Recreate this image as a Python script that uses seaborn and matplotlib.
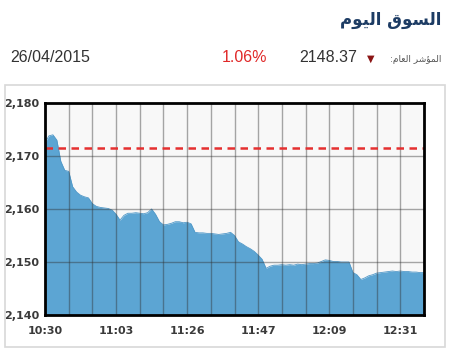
import numpy as np
import pandas as pd
import matplotlib
matplotlib.use("Agg")
import matplotlib.pyplot as plt
import matplotlib.patches as mpatches
import seaborn as sns

# ---- data ----
title_text = "\uFEE1\uFEEE\uFEF4\uFEDF\uFE8D \uFED5\uFEEE\uFEB4\uFEDF\uFE8D"   # السوق اليوم (visual order)
index_label = ":\uFEE1\uFE8E\uFECC\uFEDF\uFE8D \uFEAE\uFEB7\uFE86\uFEE4\uFEDF\uFE8D"  # المؤشر العام:
date_text = "26/04/2015"
change_text = "1.06%"
index_value_text = "2148.37"

values = [
    2172.5, 2173.8, 2174.0, 2173.0, 2169.0, 2167.3, 2167.1, 2164.2, 2163.2, 2162.6,
    2162.3, 2162.1, 2161.0, 2160.5, 2160.3, 2160.2, 2160.1, 2159.8, 2159.0, 2157.9,
    2158.8, 2159.2, 2159.2, 2159.3, 2159.2, 2159.1, 2159.3, 2160.0, 2159.0, 2157.6,
    2157.0, 2157.1, 2157.3, 2157.6, 2157.6, 2157.4, 2157.5, 2157.2, 2155.6, 2155.5,
    2155.5, 2155.4, 2155.4, 2155.3, 2155.2, 2155.3, 2155.4, 2155.6, 2155.0, 2153.8,
    2153.4, 2152.9, 2152.5, 2152.0, 2151.3, 2150.5, 2148.8, 2149.2, 2149.4, 2149.4,
    2149.5, 2149.4, 2149.5, 2149.4, 2149.6, 2149.5, 2149.6, 2149.7, 2149.7, 2149.8,
    2150.1, 2150.4, 2150.3, 2150.1, 2150.1, 2150.0, 2150.0, 2150.0, 2148.0, 2147.6,
    2146.7, 2147.0, 2147.4, 2147.6, 2147.9, 2148.0, 2148.1, 2148.2, 2148.3, 2148.2,
    2148.3, 2148.2, 2148.2, 2148.1, 2148.1, 2148.0, 2148.0,
]
previous_close = 2171.5
y_ticks = [2140, 2150, 2160, 2170, 2180]
y_tick_labels = ["2,140", "2,150", "2,160", "2,170", "2,180"]
x_tick_labels = ["10:30", "11:03", "11:26", "11:47", "12:09", "12:31"]
samples_per_grid = 6
grid_per_label = 3

df = pd.DataFrame({"i": np.arange(len(values)), "v": values})

sns.set_style("white")
fig = plt.figure(figsize=(4.5, 3.5), dpi=100)
fig.patch.set_facecolor("white")

# outer light border
fig.add_artist(mpatches.Rectangle((5 / 450, 3 / 350), 440 / 450, 262 / 350,
                                  transform=fig.transFigure, fill=False,
                                  edgecolor="#d8d8d8", lw=1.2))

ax = fig.add_axes([45 / 450, 35 / 350, 379 / 450, 212 / 350])
ax.set_facecolor("#f8f8f8")

fill_c = "#5ca5d3"
ax.fill_between(df["i"], df["v"], 2140, color=fill_c, lw=0, zorder=2)
sns.lineplot(data=df, x="i", y="v", ax=ax, color="#5098c8", lw=0.6, zorder=3)

n = len(values) - 1
# grid
for gx in range(0, n + 1, samples_per_grid):
    ax.axvline(gx, color="#303030", alpha=0.42, lw=1.0, zorder=4)
for gy in y_ticks[1:-1]:
    ax.axhline(gy, color="#303030", alpha=0.42, lw=1.0, zorder=4)

ax.axhline(previous_close, color="#e53030", lw=1.8, dashes=(3, 2.2), zorder=5)

ax.set_xlim(0, n)
ax.set_ylim(2140, 2180)
ax.set_yticks(y_ticks)
ax.set_yticklabels(y_tick_labels)
ax.set_xticks(list(range(0, n + 1, samples_per_grid * grid_per_label))[:len(x_tick_labels)])
ax.set_xticklabels(x_tick_labels)
ax.tick_params(axis="both", length=0, labelsize=8, labelcolor="#3a3a3a")
ax.tick_params(axis="y", pad=4)
ax.tick_params(axis="x", pad=8)
for lab in ax.get_xticklabels() + ax.get_yticklabels():
    lab.set_fontweight("bold")
    lab.set_family("DejaVu Sans")
ax.set_xlabel("")
ax.set_ylabel("")
for s in ax.spines.values():
    s.set_visible(True)
    s.set_color("black")
    s.set_linewidth(2)
    s.set_zorder(6)

# header
fig.text(441 / 450, 1 - 20 / 350, title_text, ha="right", va="center",
         fontsize=12, fontweight="bold", color="#1d3c64", family="DejaVu Sans")
fig.text(10 / 450, 1 - 58 / 350, date_text, ha="left", va="center",
         fontsize=11.5, color="#333333", family="Liberation Sans")
fig.text(244 / 450, 1 - 58 / 350, change_text, ha="center", va="center",
         fontsize=11.5, color="#e02828", family="Liberation Sans")
fig.text(328 / 450, 1 - 58 / 350, index_value_text, ha="center", va="center",
         fontsize=11.5, color="#333333", family="Liberation Sans")
fig.text(371 / 450, 1 - 59 / 350, "\u25BC", ha="center", va="center",
         fontsize=7, color="#8b1515", family="DejaVu Sans")
fig.text(441 / 450, 1 - 59 / 350, index_label, ha="right", va="center",
         fontsize=6.5, color="#555555", family="DejaVu Sans")

fig.savefig("out.png", dpi=100)
